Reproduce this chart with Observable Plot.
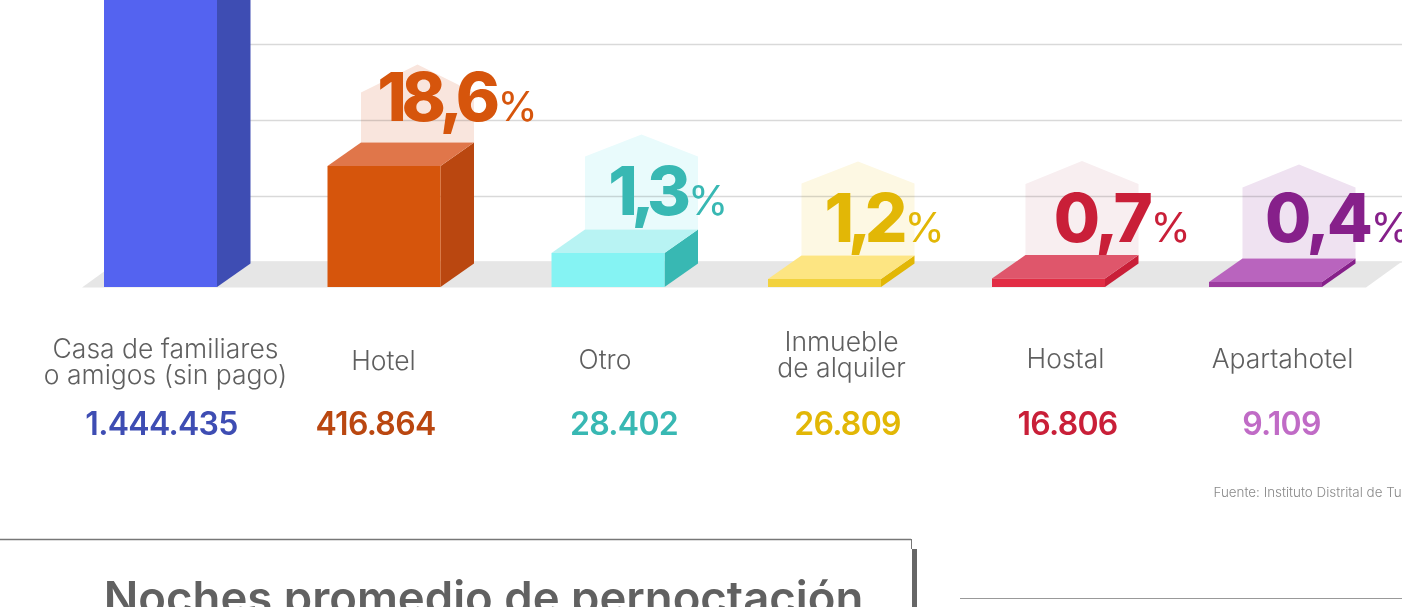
<!doctype html>
<html><head><meta charset="utf-8">
<script src="https://cdn.jsdelivr.net/npm/d3@7"></script>
<script src="https://cdn.jsdelivr.net/npm/@observablehq/plot@0.6"></script>
<style>
html,body{margin:0;padding:0;background:#fff;overflow:hidden}
svg{display:block}
.share text{letter-spacing:-3px}
.shareMid text{letter-spacing:-5.2px}
.shareTight text{letter-spacing:-6.5px}
.count text{letter-spacing:-.7px}
</style></head><body><div id="c"></div>
<script>
// ---- data ----
const categories = ["Casa de familiares\no amigos (sin pago)","Hotel","Otro","Inmueble\nde alquiler","Hostal","Apartahotel"];
const shares = ["","18,6","1,3","1,2","0,7","0,4"];
const counts = ["1.444.435","416.864","28.402","26.809","16.806","9.109"];
const barHeights = [420,121,34,8,8.5,5];
const gridLevels = [91,167,243];
// ---- styles ----
const frontColors = ["#5463F0","#D6550C","#85F3F3","#F2D23E","#E22D45","#9D3CA0"];
const sideColors  = ["#3E4DB3","#BA4710","#38B8B3","#E2B706","#C91F38","#86208A"];
const topColors   = ["#5463F0","#E0764A","#B8F3F3","#FDE582","#DF566B","#B964BE"];
const houseColors = ["#fff","#F9E5DD","#E9FBFC","#FDF8E3","#F8EEF0","#EFE2F1"];
const textColors  = ["#3E4DB3","#D6550C","#38B8B3","#E2B706","#C91F38","#86208A"];
const countColors = ["#3E4DB3","#BA4710","#38B8B3","#E2B706","#C91F38","#C06BC6"];
// ---- layout ----
const W=1402,H=607,floorY=287,step=221,first=160.5,barW=113,depthX=33.5,depthY=23.5;
const slotNudge=[0,2.5,5.5,1,4,0];
const houseRise=[0,78,95,94,94,94], gable=[0,28,22,22,23,23];
const nameOffset=[4.5,-1,-3.5,16.5,16.5,16.5], nameY=[-75,-74,-73,-68,-72,-72];
const countOffset=[0.5,-9,15.5,22.5,18.5,15.5];
const shareJoin=[0,116,82.5,82.5,104.5,107.5], shareLift=[0,167,73,46,46,46];
// category index + pixel offset -> position in slot units
const at=(i,off=0)=>i+(slotNudge[i]+off)/step;
const idx=categories.map((_,i)=>i);
const L=i=>at(i,-barW/2), R=i=>at(i,barW/2), RB=i=>at(i,barW/2+depthX), LB=i=>at(i,-barW/2+depthX);

const poly=(id,fill,pts)=>pts.map(([x,y1,y2])=>({id,fill,x,y1,y2}));
const side=idx.flatMap(i=>poly("s"+i,sideColors[i],[[R(i),0,barHeights[i]],[RB(i),depthY,barHeights[i]+depthY]]));
const top_=idx.slice(1).flatMap(i=>{const h=barHeights[i];return poly("t"+i,topColors[i],[
  [L(i),h,h],[LB(i),h,h+depthY],[R(i),h,h+depthY],[RB(i),h+depthY,h+depthY]]);});
const house=idx.slice(1).flatMap(i=>{const b=barHeights[i]+depthY,r=houseRise[i];return poly("h"+i,houseColors[i],[
  [LB(i),b,b+r-gable[i]],[(LB(i)+RB(i))/2,b,b+r],[RB(i),b,b+r-gable[i]]]);});
const px=p=>(p-first)/step;
const floor=poly("f","#E6E6E6",[[px(82),-0.5,-0.5],[px(118),-0.5,25.5],[px(1366),-0.5,25.5],[px(1402),25.5,25.5]]);
const bars=idx.map(i=>({i,x1:L(i),x2:R(i),h:barHeights[i],fill:frontColors[i]}));
const names=idx.map(i=>({t:categories[i],x:at(i,nameOffset[i]),y:nameY[i]}));
const cnt=idx.map(i=>({t:counts[i],x:at(i,countOffset[i]),c:countColors[i]}));
const sh=idx.slice(1).map(i=>({t:shares[i],x:at(i,shareJoin[i]),y:shareLift[i],c:textColors[i]}));
const shMid=sh.filter(d=>d.t.length===4), shTight=sh.filter(d=>d.t.length===3&&d.t[0]==="1"), shWide=sh.filter(d=>d.t[0]==="0");

const area=(data,extra={})=>Plot.areaY(data,{x:"x",y1:"y1",y2:"y2",z:"id",fill:"fill",curve:"linear",...extra});
const shareMark=(data,className,dx)=>Plot.text(data,{x:"x",y:"y",dx,text:"t",textAnchor:"end",lineAnchor:"bottom",fontFamily:"Inter",fontSize:67,fontWeight:800,fill:"c",className});
const chart=Plot.plot({
  width:W,height:H,margin:0,
  marginTop:0,marginBottom:0,marginLeft:0,marginRight:0,
  x:{domain:[px(0),px(W)],range:[0,W],axis:null},
  y:{domain:[floorY-H,floorY],range:[H,0],axis:null},
  color:{type:"identity"},
  style:{background:"#fff",overflow:"hidden"},
  marks:[
    Plot.ruleY(gridLevels,{x1:R(0),x2:px(W),stroke:"#D9D9D9",strokeWidth:1.6}),
    Plot.ruleY([25.5],{x1:px(118),x2:px(1402),stroke:"#DEDEDE",strokeWidth:1}),
    area(floor),
    area(house,{mixBlendMode:"multiply"}),
    area(side),
    area(top_),
    Plot.rect(bars,{x1:"x1",x2:"x2",y1:0,y2:"h",fill:"fill"}),
    Plot.text(names,{x:"x",y:"y",text:"t",fontFamily:"Inter",fontSize:26.5,fontWeight:300,fill:"#5f5f5f",lineHeight:0.97}),
    Plot.text(cnt,{x:"x",y:-137,text:"t",fontFamily:"Inter",fontSize:32,fontWeight:600,fill:"c",className:"count"}),
    shareMark(shWide,"share",-3.5),
    shareMark(shMid,"shareMid",-5.5),
    shareMark(shTight,"shareTight",-6.5),
    Plot.text(sh,{x:"x",y:"y",dx:-3,text:()=>"%",textAnchor:"start",lineAnchor:"bottom",fontFamily:"Inter",fontSize:41,fontWeight:400,fill:"c"}),
    Plot.text(["Fuente: Instituto Distrital de Turismo"],{x:px(1213),y:-205,textAnchor:"start",fontFamily:"Inter",fontSize:13.4,fontWeight:300,fill:"#8a8a8a"}),
    Plot.ruleY([-252],{x1:px(0),x2:px(911),stroke:"#777",strokeWidth:1.4}),
    Plot.ruleX([px(911)],{y1:-252,y2:-262,stroke:"#777",strokeWidth:1}),
    Plot.ruleX([px(914)],{y1:-262,y2:-320,stroke:"#666",strokeWidth:5}),
    Plot.ruleY([-311],{x1:px(960),x2:px(W),stroke:"#999",strokeWidth:1.2}),
    Plot.text(["Noches promedio de pernoctación"],{x:px(483),y:-312,fontFamily:"Inter",fontSize:45.5,fontWeight:600,fill:"#616161"})
  ]
});
document.getElementById("c").append(chart);
</script></body></html>
